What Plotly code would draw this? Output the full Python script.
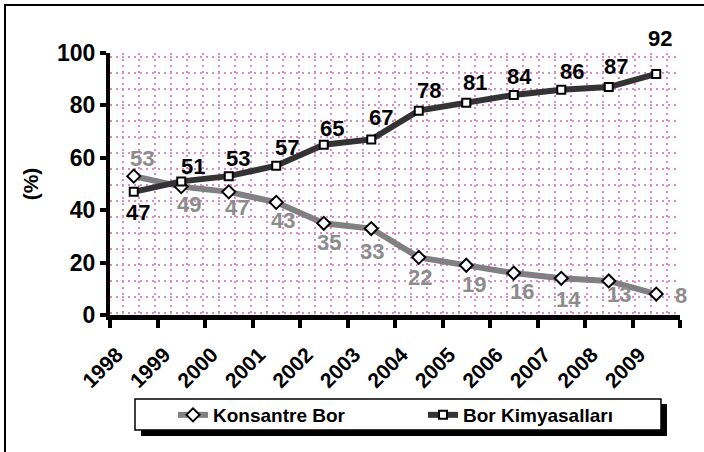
import plotly.graph_objects as go

# ---------------- data ----------------
years = ['1998', '1999', '2000', '2001', '2002', '2003',
         '2004', '2005', '2006', '2007', '2008', '2009']
konsantre_bor = [53, 49, 47, 43, 35, 33, 22, 19, 16, 14, 13, 8]
bor_kimyasallari = [47, 51, 53, 57, 65, 67, 78, 81, 84, 86, 87, 92]
series_names = ['Konsantre Bor', 'Bor Kimyasalları']
y_ticks = [0, 20, 40, 60, 80, 100]

# ---------------- style / layout ----------------
W, H = 704, 452
L, R, T, B = 110, 24, 53, 137
PW, PH = W - L - R, H - T - B
FONT = 'Liberation Sans'
GRID_COL = '#d98cc8'

# label offsets (px, dx right, dy down) per point
kon_off = [(8, -18), (8, 18), (8, 16), (7, 18), (5, 19), (1, 23),
           (1, 20), (8, 19), (8, 18), (7, 21), (10, 14), (25, 1)]
kim_off = [(4, 21), (12, -15), (9, -18), (11, -18), (8, -16), (10, -22),
           (10, -20), (9, -20), (6, -18), (11, -18), (7, -21), (4, -35)]


def px_to_paper_x(px):
    return (px - L) / PW


def px_to_paper_y(py):
    return (H - B - py) / PH


fig = go.Figure()

# invisible trace to carry the pixel-grid overlay axes
fig.add_trace(go.Scatter(x=[], y=[], xaxis='x2', yaxis='y2',
                         showlegend=False, hoverinfo='skip'))

fig.add_trace(go.Scatter(
    x=years, y=konsantre_bor, name=series_names[0], mode='lines+markers',
    line=dict(color='#808080', width=6),
    marker=dict(symbol='diamond', size=10, color='white',
                line=dict(color='black', width=2)),
))
fig.add_trace(go.Scatter(
    x=years, y=bor_kimyasallari, name=series_names[1], mode='lines+markers',
    line=dict(color='#333333', width=6),
    marker=dict(symbol='square', size=8, color='white',
                line=dict(color='black', width=2)),
))

annotations = []
for vals, offs, col in ((konsantre_bor, kon_off, '#8c8c8c'),
                        (bor_kimyasallari, kim_off, '#000000')):
    for i, (v, (dx, dy)) in enumerate(zip(vals, offs)):
        annotations.append(dict(
            x=i, y=v, xref='x', yref='y', text=str(v), showarrow=False,
            xshift=dx, yshift=-dy,
            font=dict(family=FONT, size=22, color=col, weight='bold')))

shapes = [
    # outer frame (top and left visible)
    dict(type='rect', xref='paper', yref='paper',
         x0=px_to_paper_x(5), y0=px_to_paper_y(470),
         x1=px_to_paper_x(720), y1=px_to_paper_y(5),
         line=dict(color='black', width=2), layer='below'),
    # legend shadow
    dict(type='rect', xref='paper', yref='paper',
         x0=px_to_paper_x(141), y0=px_to_paper_y(436),
         x1=px_to_paper_x(667), y1=px_to_paper_y(404),
         line=dict(width=0), fillcolor='black', layer='above'),
    # legend box
    dict(type='rect', xref='paper', yref='paper',
         x0=px_to_paper_x(135), y0=px_to_paper_y(430),
         x1=px_to_paper_x(661), y1=px_to_paper_y(399),
         line=dict(color='black', width=1.5), fillcolor='white', layer='above'),
]

fig.update_layout(
    width=W, height=H,
    margin=dict(l=L, r=R, t=T, b=B, autoexpand=False),
    paper_bgcolor='white', plot_bgcolor='white',
    font=dict(family=FONT, color='black'),
    showlegend=True,
    legend=dict(
        orientation='h', x=px_to_paper_x(173), xanchor='left',
        y=px_to_paper_y(415), yanchor='middle',
        bgcolor='rgba(0,0,0,0)', borderwidth=0,
        font=dict(family=FONT, size=19, color='black', weight='bold'),
        entrywidth=205, itemwidth=30,
    ),
    xaxis=dict(
        type='category', range=[-0.5, 11.5], autorange=False,
        tickson='boundaries',
        showgrid=False, zeroline=False,
        showline=True, linecolor='black', linewidth=5,
        ticks='outside', ticklen=8, tickwidth=4, tickcolor='black',
        tickangle=-45, ticklabelshift=-17, ticklabelstandoff=14,
        tickfont=dict(family=FONT, size=21, color='black', weight='bold'),
    ),
    yaxis=dict(
        range=[0, 100], autorange=False, tickvals=y_ticks,
        showgrid=False, zeroline=False,
        showline=True, linecolor='black', linewidth=4,
        ticks='outside', ticklen=6, tickwidth=4, tickcolor='black',
        tickfont=dict(family=FONT, size=23, color='black', weight='bold'),
        title=dict(text='(%)', standoff=14,
                   font=dict(family=FONT, size=21, color='black', weight='bold')),
    ),
    xaxis2=dict(
        overlaying='x', anchor='y2', range=[0, PW], tick0=13, dtick=16,
        showgrid=True, gridcolor=GRID_COL, gridwidth=2, griddash='2px,4px',
        showticklabels=False, ticks='', showline=False, zeroline=False,
    ),
    yaxis2=dict(
        overlaying='y', anchor='x2', range=[0, PH], tick0=2, dtick=16,
        showgrid=True, gridcolor=GRID_COL, gridwidth=2, griddash='2px,4px',
        showticklabels=False, ticks='', showline=False, zeroline=False,
    ),
    annotations=annotations,
    shapes=shapes,
)

fig.write_html('out.html', config={'displayModeBar': False},
               post_script="document.body.style.margin='0';")
